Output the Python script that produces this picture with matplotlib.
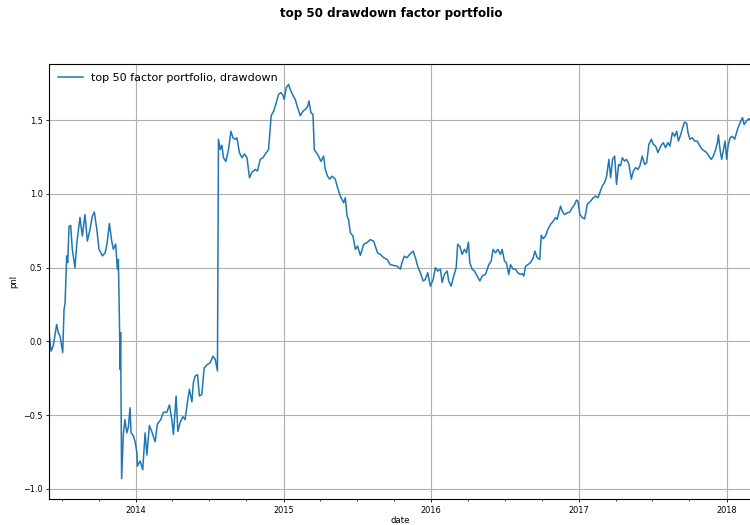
#!/usr/bin/env python3
# top 50 drawdown factor portfolio - cumulative pnl
import numpy as np
import matplotlib
matplotlib.use('Agg')
import matplotlib.pyplot as plt
import matplotlib.dates as mdates
import pandas as pd

title = 'top 50 drawdown factor portfolio'
series_label = 'top 50 factor portfolio, drawdown'

# time as decimal years
years = [
    2013.410, 2013.424, 2013.439, 2013.462, 2013.473, 2013.485, 2013.503, 2013.512,
    2013.519, 2013.530, 2013.537, 2013.546, 2013.557, 2013.568, 2013.586, 2013.600,
    2013.620, 2013.636, 2013.654, 2013.670, 2013.688, 2013.704, 2013.717, 2013.734,
    2013.749, 2013.772, 2013.790, 2013.803, 2013.819, 2013.835, 2013.846, 2013.862,
    2013.873, 2013.880, 2013.887, 2013.892, 2013.895, 2013.902, 2013.914, 2013.925,
    2013.937, 2013.948, 2013.959, 2013.966, 2013.982, 2013.993, 2014.005, 2014.009,
    2014.027, 2014.045, 2014.061, 2014.073, 2014.090, 2014.106, 2014.129, 2014.144,
    2014.167, 2014.185, 2014.208, 2014.226, 2014.242, 2014.253, 2014.271, 2014.283,
    2014.298, 2014.317, 2014.332, 2014.348, 2014.361, 2014.378, 2014.388, 2014.400,
    2014.416, 2014.429, 2014.445, 2014.461, 2014.483, 2014.502, 2014.520, 2014.536,
    2014.551, 2014.558, 2014.570, 2014.581, 2014.592, 2014.608, 2014.626, 2014.642,
    2014.656, 2014.671, 2014.683, 2014.700, 2014.717, 2014.734, 2014.751, 2014.768,
    2014.784, 2014.807, 2014.822, 2014.841, 2014.859, 2014.875, 2014.897, 2014.904,
    2014.915, 2014.931, 2014.947, 2014.965, 2014.981, 2014.995, 2015.003, 2015.017,
    2015.033, 2015.044, 2015.062, 2015.078, 2015.094, 2015.112, 2015.130, 2015.146,
    2015.161, 2015.171, 2015.184, 2015.198, 2015.207, 2015.220, 2015.236, 2015.252,
    2015.270, 2015.281, 2015.297, 2015.311, 2015.327, 2015.349, 2015.365, 2015.383,
    2015.406, 2015.417, 2015.429, 2015.439, 2015.451, 2015.469, 2015.485, 2015.500,
    2015.519, 2015.541, 2015.564, 2015.586, 2015.609, 2015.620, 2015.636, 2015.654,
    2015.677, 2015.700, 2015.722, 2015.745, 2015.768, 2015.790, 2015.801, 2015.817,
    2015.835, 2015.853, 2015.876, 2015.892, 2015.907, 2015.925, 2015.944, 2015.959,
    2015.975, 2015.993, 2016.012, 2016.027, 2016.043, 2016.061, 2016.073, 2016.088,
    2016.107, 2016.117, 2016.134, 2016.151, 2016.168, 2016.178, 2016.192, 2016.208,
    2016.224, 2016.237, 2016.251, 2016.260, 2016.276, 2016.292, 2016.310, 2016.328,
    2016.344, 2016.366, 2016.389, 2016.405, 2016.418, 2016.434, 2016.450, 2016.468,
    2016.479, 2016.495, 2016.508, 2016.524, 2016.536, 2016.554, 2016.570, 2016.585,
    2016.603, 2016.615, 2016.626, 2016.638, 2016.653, 2016.671, 2016.690, 2016.701,
    2016.717, 2016.734, 2016.744, 2016.757, 2016.773, 2016.789, 2016.807, 2016.825,
    2016.841, 2016.852, 2016.863, 2016.875, 2016.886, 2016.902, 2016.920, 2016.938,
    2016.954, 2016.970, 2016.983, 2016.992, 2017.006, 2017.022, 2017.038, 2017.056,
    2017.078, 2017.097, 2017.112, 2017.128, 2017.141, 2017.157, 2017.173, 2017.187,
    2017.202, 2017.214, 2017.227, 2017.241, 2017.254, 2017.268, 2017.281, 2017.293,
    2017.308, 2017.322, 2017.338, 2017.354, 2017.368, 2017.383, 2017.399, 2017.412,
    2017.428, 2017.444, 2017.458, 2017.473, 2017.490, 2017.503, 2017.519, 2017.534,
    2017.553, 2017.571, 2017.586, 2017.602, 2017.616, 2017.632, 2017.648, 2017.661,
    2017.673, 2017.688, 2017.702, 2017.715, 2017.729, 2017.738, 2017.751, 2017.767,
    2017.783, 2017.801, 2017.819, 2017.835, 2017.851, 2017.864, 2017.880, 2017.896,
    2017.910, 2017.925, 2017.937, 2017.944, 2017.955, 2017.966, 2017.978, 2017.989,
    2018.000, 2018.009, 2018.023, 2018.039, 2018.054, 2018.073, 2018.091, 2018.107,
    2018.118, 2018.134, 2018.151, 2018.163,
]

pnl = [
    0.070, -0.066, -0.030, 0.115, 0.060, 0.036, -0.075, 0.217,
    0.260, 0.580, 0.535, 0.780, 0.786, 0.624, 0.500, 0.680,
    0.840, 0.714, 0.860, 0.680, 0.760, 0.850, 0.877, 0.760,
    0.624, 0.580, 0.600, 0.660, 0.800, 0.680, 0.624, 0.660,
    0.490, 0.556, 0.150, -0.190, 0.060, -0.930, -0.620, -0.530,
    -0.620, -0.580, -0.450, -0.620, -0.640, -0.680, -0.750, -0.845,
    -0.810, -0.870, -0.620, -0.770, -0.570, -0.610, -0.680, -0.560,
    -0.530, -0.480, -0.480, -0.430, -0.530, -0.630, -0.370, -0.610,
    -0.550, -0.510, -0.530, -0.410, -0.325, -0.410, -0.280, -0.235,
    -0.225, -0.370, -0.360, -0.180, -0.156, -0.145, -0.100, -0.120,
    -0.200, 1.370, 1.300, 1.330, 1.245, 1.220, 1.300, 1.425,
    1.380, 1.370, 1.380, 1.280, 1.245, 1.270, 1.245, 1.110,
    1.145, 1.166, 1.155, 1.234, 1.245, 1.270, 1.300, 1.390,
    1.530, 1.560, 1.610, 1.675, 1.686, 1.668, 1.640, 1.720,
    1.742, 1.708, 1.668, 1.640, 1.584, 1.530, 1.560, 1.573,
    1.590, 1.630, 1.550, 1.540, 1.300, 1.280, 1.256, 1.220,
    1.256, 1.166, 1.120, 1.100, 1.120, 1.100, 1.040, 0.985,
    0.940, 0.974, 0.850, 0.827, 0.737, 0.714, 0.624, 0.646,
    0.583, 0.658, 0.670, 0.690, 0.680, 0.646, 0.600, 0.590,
    0.567, 0.556, 0.520, 0.515, 0.510, 0.490, 0.534, 0.578,
    0.567, 0.590, 0.612, 0.567, 0.510, 0.466, 0.410, 0.420,
    0.466, 0.375, 0.420, 0.500, 0.477, 0.490, 0.400, 0.454,
    0.477, 0.410, 0.375, 0.443, 0.500, 0.658, 0.646, 0.590,
    0.624, 0.600, 0.673, 0.534, 0.490, 0.477, 0.443, 0.410,
    0.443, 0.454, 0.520, 0.545, 0.624, 0.600, 0.624, 0.590,
    0.624, 0.545, 0.534, 0.454, 0.520, 0.490, 0.490, 0.466,
    0.454, 0.460, 0.443, 0.510, 0.520, 0.534, 0.567, 0.612,
    0.567, 0.556, 0.720, 0.696, 0.714, 0.760, 0.793, 0.815,
    0.840, 0.827, 0.872, 0.917, 0.883, 0.860, 0.872, 0.877,
    0.906, 0.929, 0.958, 0.951, 0.860, 0.840, 0.830, 0.929,
    0.951, 0.974, 0.985, 0.974, 1.008, 1.053, 1.076, 1.120,
    1.234, 1.110, 1.234, 1.256, 1.064, 1.200, 1.190, 1.245,
    1.222, 1.234, 1.200, 1.100, 1.155, 1.178, 1.166, 1.190,
    1.256, 1.200, 1.210, 1.336, 1.370, 1.336, 1.324, 1.280,
    1.324, 1.347, 1.313, 1.347, 1.324, 1.415, 1.390, 1.425,
    1.358, 1.400, 1.449, 1.487, 1.478, 1.415, 1.370, 1.380,
    1.358, 1.358, 1.324, 1.300, 1.290, 1.280, 1.256, 1.234,
    1.256, 1.300, 1.347, 1.400, 1.300, 1.234, 1.300, 1.358,
    1.234, 1.324, 1.380, 1.390, 1.370, 1.437, 1.483, 1.517,
    1.470, 1.494, 1.510, 1.500,
]


def decimal_to_date(y):
    # decimal year -> timestamp
    return pd.Timestamp('2014-01-01') + pd.to_timedelta((y - 2014.0) * 365.25, unit='D')


def main():
    dates = [decimal_to_date(y) for y in years]
    df = pd.DataFrame({'date': dates, series_label: pnl}).set_index('date')

    fig = plt.figure(figsize=(7.5, 5.25), dpi=100)
    ax = fig.add_axes([0.0653, 0.0495, 0.9357, 0.8285])

    ax.plot(df.index, df[series_label], color='#1f77b4', lw=1.1, label=series_label)

    ax.set_xlim(df.index[0], df.index[-1])
    ax.set_ylim(-1.068, 1.88)

    ax.xaxis.set_major_locator(mdates.YearLocator())
    ax.xaxis.set_major_formatter(mdates.DateFormatter('%Y'))
    ax.xaxis.set_minor_locator(mdates.MonthLocator(bymonth=[1, 4, 7, 10]))
    ax.set_yticks([-1.0, -0.5, 0.0, 0.5, 1.0, 1.5])

    ax.tick_params(axis='both', which='major', labelsize=5.9, length=2.2, width=0.6, pad=2.5)
    ax.tick_params(axis='x', which='minor', length=1.3, width=0.5)
    ax.grid(True, which='major', color='#b0b0b0', lw=0.8)

    ax.set_xlabel('date', fontsize=6.1, labelpad=1)
    ax.set_ylabel('pnl', fontsize=6.1, labelpad=3)
    for s in ax.spines.values():
        s.set_linewidth(0.8)

    ax.legend(loc='upper left', fontsize=8.0, frameon=False, handlelength=2.3,
              handletextpad=0.7, borderaxespad=0.4)

    fig.suptitle(title, x=0.521, y=0.986, fontsize=8.6, fontweight='bold')

    plt.savefig('out.png', dpi=100)
    plt.close()


if __name__ == "__main__":
    main()
